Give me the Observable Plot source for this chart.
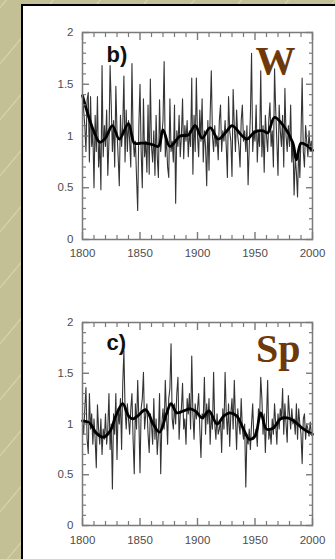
<!DOCTYPE html>
<html>
<head>
<meta charset="utf-8">
<script src="https://cdn.jsdelivr.net/npm/d3@7"></script>
<script src="https://cdn.jsdelivr.net/npm/@observablehq/plot@0.6"></script>
<style>
  html, body { margin: 0; padding: 0; }
  body {
    width: 335px; height: 559px; overflow: hidden; position: relative;
    background-color: #c4c096;
    background-image: repeating-linear-gradient(-50deg, rgba(255,255,240,0) 0px, rgba(255,255,240,0) 34px, rgba(235,232,200,0.55) 35px, rgba(255,255,240,0) 36px);
  }
  #panel { position: absolute; left: 21px; top: 4px; width: 330px; height: 570px; background: #fff; border-left: 2px solid #000; border-top: 2px solid #000; }
  .chart { position: absolute; left: 0; }
  .chart svg { overflow: visible; }
</style>
</head>
<body>
<div id="panel"></div>
<div id="c1" class="chart" style="top:0px"></div>
<div id="c2" class="chart" style="top:290px"></div>
<script>
// ---------- data ----------
const startYear = 1800;
const endYear = 2000;

// Panel b) W : yearly values 1800..2000
const valuesW = [
  1.40, 1.25, 1.10, 0.85, 1.35, 1.42, 0.75, 1.38, 0.90, 1.05,
  0.50, 1.20, 0.85, 1.38, 0.70, 0.95, 0.48, 1.68, 0.80, 1.10,
  0.90, 1.25, 0.62, 0.95, 1.68, 1.30, 0.85, 1.15, 0.70, 1.48,
  1.05, 0.80, 0.52, 1.20, 0.90, 1.10, 1.58, 0.75, 1.25, 0.85,
  1.15, 0.95, 0.70, 1.70, 1.00, 0.80, 0.95, 0.60, 0.28, 1.10,
  1.50, 0.85, 0.50, 1.36, 0.80, 0.95, 0.65, 1.30, 0.63, 1.55,
  0.90, 0.75, 1.05, 0.62, 1.20, 0.80, 0.60, 1.35, 0.85, 1.00,
  1.15, 1.72, 0.80, 1.00, 0.70, 0.60, 1.36, 0.85, 0.95, 0.75,
  1.30, 0.35, 1.05, 0.90, 1.20, 0.80, 1.00, 1.36, 0.78, 1.10,
  0.95, 1.15, 0.80, 1.05, 0.90, 1.56, 0.63, 1.20, 0.85, 1.56,
  1.00, 0.80, 1.25, 0.95, 1.36, 0.75, 1.05, 0.90, 0.52, 1.15,
  0.67, 1.20, 1.63, 1.00, 0.85, 1.10, 0.90, 1.00, 0.77, 1.15,
  1.30, 0.85, 1.05, 0.95, 1.15, 0.90, 0.60, 1.38, 1.05, 0.95,
  0.61, 1.45, 1.10, 0.85, 1.25, 1.00, 0.90, 0.70, 1.15, 1.30,
  0.95, 1.05, 0.85, 1.10, 0.53, 0.90, 1.20, 1.80, 0.85, 1.05,
  0.95, 1.30, 0.75, 1.05, 0.90, 1.63, 0.80, 1.10, 0.65, 1.20,
  1.00, 0.85, 1.15, 1.32, 0.90, 1.05, 0.70, 1.65, 1.25, 0.95,
  0.62, 1.30, 1.05, 0.90, 1.20, 0.70, 1.46, 1.00, 0.85, 1.10,
  0.90, 1.30, 0.75, 0.95, 0.43, 0.80, 0.65, 0.41, 0.90, 0.60,
  1.00, 1.56, 0.85, 0.70, 1.10, 0.95, 0.80, 1.05, 0.85, 0.95,
  0.85
];
// Panel b) W : smoothed curve
const smoothYearsW  = [1800, 1805, 1810, 1815, 1820, 1826, 1832, 1840, 1845, 1850, 1855, 1860, 1866, 1870, 1876, 1885, 1892, 1898, 1904, 1911, 1918, 1925, 1930, 1939, 1943, 1950, 1957, 1961, 1967, 1976, 1983, 1986, 1990, 1995, 2000];
const smoothValuesW = [1.39, 1.20, 1.04, 0.94, 0.98, 1.10, 0.97, 1.12, 0.93, 0.93, 0.93, 0.92, 0.90, 1.06, 0.90, 1.00, 1.01, 1.10, 0.98, 1.08, 0.97, 1.04, 1.10, 1.00, 0.97, 1.04, 1.05, 1.03, 1.18, 1.08, 0.93, 0.77, 0.93, 0.91, 0.86];

// Panel c) Sp : yearly values 1800..2000
const valuesSp = [
  1.05, 0.90, 1.15, 1.36, 0.85, 0.71, 1.30, 0.95, 1.10, 0.80,
  1.05, 0.85, 0.57, 1.19, 0.95, 0.80, 1.05, 0.70, 0.95, 0.85,
  1.10, 0.80, 0.95, 1.30, 0.75, 1.00, 0.36, 1.10, 0.90, 1.30,
  0.65, 1.15, 1.00, 1.25, 0.75, 1.40, 1.72, 1.15, 0.95, 1.20,
  1.05, 0.90, 1.15, 1.30, 0.85, 0.51, 1.20, 0.95, 1.43, 1.05,
  0.52, 1.15, 1.25, 1.51, 0.95, 1.10, 1.20, 0.90, 0.72, 1.10,
  1.00, 0.80, 1.25, 0.85, 1.05, 0.70, 0.90, 1.30, 0.51, 1.00,
  1.15, 0.95, 1.43, 1.10, 0.80, 1.25, 1.35, 1.79, 1.05, 0.95,
  1.20, 1.00, 1.30, 1.46, 0.85, 1.10, 1.15, 1.40, 0.95, 1.05,
  0.80, 1.25, 1.10, 1.30, 0.95, 1.67, 1.10, 0.85, 1.20, 1.05,
  1.15, 1.30, 0.95, 0.67, 1.10, 1.05, 1.46, 0.90, 1.20, 1.00,
  1.25, 0.80, 1.10, 0.95, 1.51, 1.00, 0.85, 1.10, 0.90, 0.95,
  1.05, 0.72, 1.15, 0.95, 1.51, 1.10, 0.90, 1.20, 0.78, 1.10,
  1.25, 0.95, 1.43, 1.05, 0.75, 1.15, 1.00, 0.90, 1.25, 0.95,
  0.85, 1.00, 0.38, 0.90, 0.80, 0.95, 0.75, 1.00, 1.20, 0.85,
  0.90, 0.95, 0.78, 1.15, 1.05, 1.46, 1.25, 0.90, 1.10, 0.72,
  1.05, 1.43, 0.85, 0.95, 0.80, 1.05, 0.90, 1.20, 1.00, 0.80,
  1.10, 0.95, 1.15, 1.05, 1.35, 0.90, 1.20, 1.00, 0.82, 1.28,
  1.10, 0.95, 1.15, 1.00, 1.05, 0.90, 1.20, 0.85, 1.15, 1.00,
  0.90, 0.61, 1.05, 1.10, 0.85, 1.00, 0.95, 0.88, 1.02, 0.90,
  0.88
];
// Panel c) Sp : smoothed curve
const smoothYearsSp  = [1800, 1806, 1812, 1818, 1824, 1829, 1835, 1840, 1844, 1848, 1855, 1861, 1867, 1873, 1877, 1882, 1888, 1894, 1899, 1904, 1910, 1917, 1923, 1928, 1934, 1940, 1945, 1950, 1955, 1960, 1966, 1972, 1978, 1984, 1990, 1995, 2000];
const smoothValuesSp = [1.03, 1.01, 0.91, 0.87, 0.93, 1.08, 1.20, 1.08, 1.05, 1.08, 1.14, 1.01, 0.92, 1.10, 1.20, 1.11, 1.13, 1.15, 1.12, 1.06, 1.13, 1.00, 1.08, 1.11, 1.08, 0.95, 0.85, 0.88, 1.11, 0.95, 0.96, 1.05, 1.06, 1.03, 0.97, 0.93, 0.90];

// Tick labels
const xTickLabels = [1800, 1850, 1900, 1950, 2000];
const yTickLabels = [0, 0.5, 1, 1.5, 2];

// Panel labels
const panelLetters = ["b)", "c)"];
const seasonNames = ["W", "Sp"];

// ---------- drawing ----------
const years = d3.range(startYear, endYear + 1);
const xMinor = d3.range(startYear, endYear + 1, 10).filter(d => !xTickLabels.includes(d));
const yMinor = d3.range(0, 21).map(i => i / 10).filter(d => !yTickLabels.some(t => Math.abs(t - d) < 1e-9));

const frameColor = "#7a7a7a";
const tickFont = "'Liberation Sans', Arial, Helvetica, sans-serif";

function panel({values, smoothYears, smoothValues, letter, season, height, marginTop, marginBottom, xPad, letterDy, seasonDy, seasonDx}) {
  const yearly = years.map((y, i) => ({year: y, v: values[i]}));
  const smooth = smoothYears.map((y, i) => ({year: y, v: smoothValues[i]}));
  const inner = [];
  for (const anchor of ["bottom", "top"]) {
    inner.push(Plot.axisX({anchor, ticks: xMinor, tickSize: -4, tickFormat: () => "", stroke: frameColor, strokeWidth: 1.2}));
    inner.push(Plot.axisX({anchor, ticks: xTickLabels, tickSize: -7, tickFormat: () => "", stroke: frameColor, strokeWidth: 1.4}));
  }
  for (const anchor of ["left", "right"]) {
    inner.push(Plot.axisY({anchor, ticks: yMinor, tickSize: -4, tickFormat: () => "", stroke: frameColor, strokeWidth: 1.2}));
    inner.push(Plot.axisY({anchor, ticks: yTickLabels, tickSize: -7, tickFormat: () => "", stroke: frameColor, strokeWidth: 1.4}));
  }
  return Plot.plot({
    width: 335,
    height,
    marginLeft: 82,
    marginRight: 23,
    marginTop,
    marginBottom,
    x: {domain: [startYear, endYear], label: null, axis: null},
    y: {domain: [0, 2], label: null, axis: null},
    style: {background: "transparent", fontFamily: tickFont, fontSize: "11.5px", color: "#4d4d4d", overflow: "visible"},
    marks: [
      Plot.line(yearly, {x: "year", y: "v", stroke: "#111", strokeWidth: 1.1, strokeOpacity: 0.85}),
      Plot.line(smooth, {x: "year", y: "v", stroke: "#000", strokeWidth: 2.8, curve: "catmull-rom"}),
      Plot.frame({stroke: frameColor, strokeWidth: 1.5}),
      ...inner,
      Plot.axisX({anchor: "bottom", ticks: xTickLabels, tickSize: 0, tickPadding: xPad, tickFormat: d => String(d), fill: "#4d4d4d"}),
      Plot.axisY({anchor: "left", ticks: yTickLabels, tickSize: 0, tickPadding: 9, tickFormat: d => String(d), fill: "#4d4d4d"}),
      Plot.text([letter], {frameAnchor: "top-left", text: d => d, dx: 24, dy: letterDy, lineAnchor: "bottom", textAnchor: "start",
        fontFamily: "'Liberation Sans', Arial, sans-serif", fontWeight: "bold", fontSize: 22, fill: "#111"}),
      Plot.text([season], {frameAnchor: "top-right", text: d => d, dx: seasonDx, dy: seasonDy, lineAnchor: "bottom", textAnchor: "end",
        fontFamily: "'Liberation Serif', 'Times New Roman', serif", fontWeight: "bold", fontSize: 40, fill: "#6e390a"})
    ]
  });
}

document.getElementById("c1").append(panel({
  values: valuesW, smoothYears: smoothYearsW, smoothValues: smoothValuesW,
  letter: panelLetters[0], season: seasonNames[0],
  height: 270, marginTop: 32, marginBottom: 31, xPad: 9, letterDy: 29, seasonDy: 41, seasonDx: -17
}));
document.getElementById("c2").append(panel({
  values: valuesSp, smoothYears: smoothYearsSp, smoothValues: smoothValuesSp,
  letter: panelLetters[1], season: seasonNames[1],
  height: 269, marginTop: 32, marginBottom: 34, xPad: 10, letterDy: 27, seasonDy: 39, seasonDx: -12
}));
</script>
</body>
</html>
